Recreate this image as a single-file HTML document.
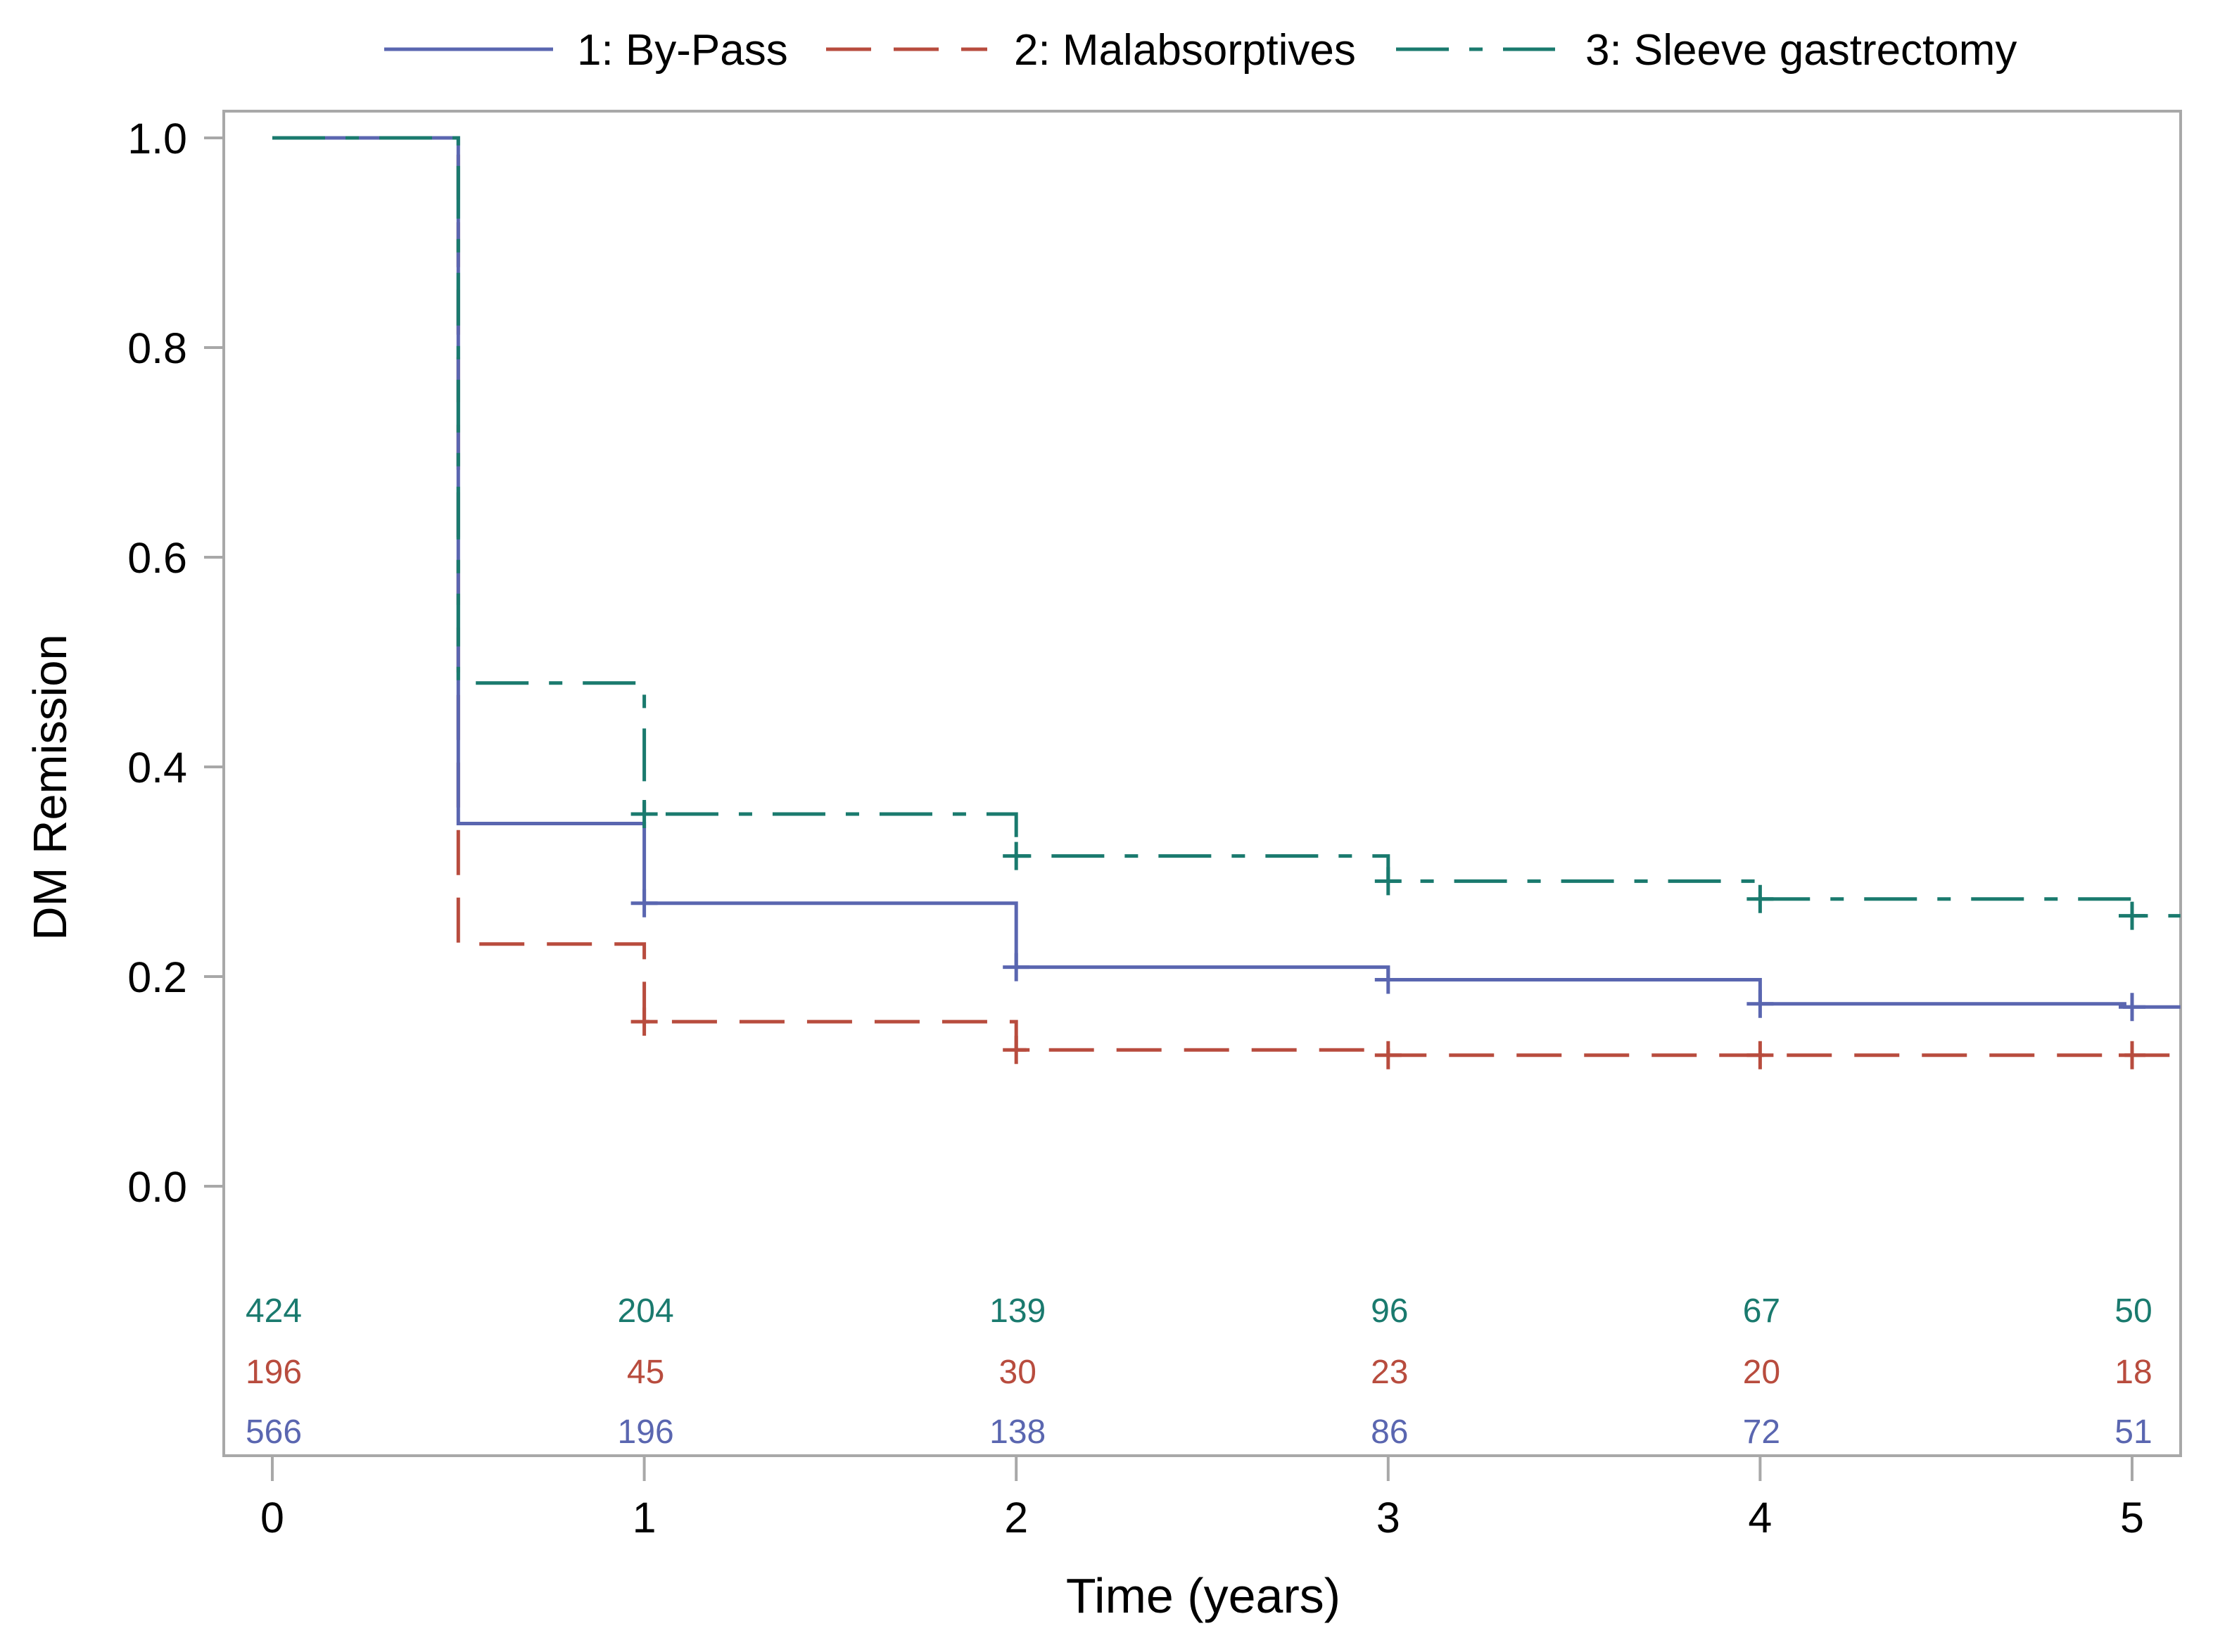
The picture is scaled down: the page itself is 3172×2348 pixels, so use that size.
<!DOCTYPE html>
<html><head><meta charset="utf-8"><style>
html,body{margin:0;padding:0;background:#fff;}
svg{display:block;font-family:"Liberation Sans",Arial,sans-serif;}
</style></head><body>
<svg id="chart" width="3172" height="2348" viewBox="0 0 3172 2348" xmlns="http://www.w3.org/2000/svg">
<rect x="0" y="0" width="3172" height="2348" fill="#fff"/>
<g id="legend">
  <g>
    <line x1="546" y1="70" x2="786" y2="70" stroke="#5a66b0" stroke-width="5"/>
    <text x="820" y="92" font-size="62" fill="#000">1: By-Pass</text>
  </g>
  <g>
    <line x1="1174" y1="70" x2="1403" y2="70" stroke="#b84c3e" stroke-width="5" stroke-dasharray="64 32"/>
    <text x="1441" y="92" font-size="62" fill="#000">2: Malabsorptives</text>
  </g>
  <g>
    <line x1="1984" y1="70" x2="2210" y2="70" stroke="#1a7a6e" stroke-width="5" stroke-dasharray="75 29 19 29"/>
    <text x="2253" y="92" font-size="62" fill="#000">3: Sleeve gastrectomy</text>
  </g>
</g>
<rect x="318" y="158" width="2781" height="1911" fill="none" stroke="#a8a8a8" stroke-width="4"/>
<g id="yaxis"></g>
<g id="xaxis"></g>
<g id="series"></g>
<g id="risk"></g>
<text x="1710" y="2292" font-size="70" text-anchor="middle" fill="#000">Time (years)</text>
<text transform="translate(94,1119) rotate(-90)" font-size="67" text-anchor="middle" fill="#000">DM Remission</text>
</svg>
<script>
const yTicks = [0.0, 0.2, 0.4, 0.6, 0.8, 1.0];
const yTickLabels = ["0.0", "0.2", "0.4", "0.6", "0.8", "1.0"];
const xTicks = [0, 1, 2, 3, 4, 5];
const xTickLabels = ["0", "1", "2", "3", "4", "5"];
const xMax = 5.13;
const bypassTimes = [0, 0.5, 1, 2, 3, 4, 4.98];
const bypassSurv = [1.0, 0.346, 0.270, 0.209, 0.197, 0.174, 0.171];
const bypassCensor = [1, 2, 3, 4, 5];
const malabTimes = [0, 0.5, 1, 2, 3];
const malabSurv = [1.0, 0.231, 0.157, 0.130, 0.125];
const malabCensor = [1, 2, 3, 4, 5];
const sleeveTimes = [0, 0.5, 1, 2, 3, 4, 5];
const sleeveSurv = [1.0, 0.480, 0.355, 0.315, 0.291, 0.274, 0.258];
const sleeveCensor = [1, 2, 3, 4, 5];
const riskTimes = [0, 1, 2, 3, 4, 5];
const riskSleeve = [424, 204, 139, 96, 67, 50];
const riskMalab = [196, 45, 30, 23, 20, 18];
const riskBypass = [566, 196, 138, 86, 72, 51];

const NS = "http://www.w3.org/2000/svg";
const X = t => 387 + t * 528.6;
const Y = v => 1686 - v * 1490;
function mk(tag, attrs, parent) {
  const e = document.createElementNS(NS, tag);
  for (const k in attrs) e.setAttribute(k, attrs[k]);
  parent.appendChild(e);
  return e;
}
const yg = document.getElementById('yaxis');
yTicks.forEach((v, i) => {
  const l = mk('line', {x1: 290, x2: 318, y1: Y(v), y2: Y(v), stroke: '#a8a8a8', 'stroke-width': 4}, yg);
  
  
  const t = mk('text', {x: 266, y: Y(v) + 22, 'font-size': 61, 'text-anchor': 'end', fill: '#000'}, yg);
  t.textContent = yTickLabels[i];
  
  
});
const xg = document.getElementById('xaxis');
xTicks.forEach((v, i) => {
  const l = mk('line', {x1: X(v), x2: X(v), y1: 2069, y2: 2105, stroke: '#a8a8a8', 'stroke-width': 4}, xg);
  
  
  const t = mk('text', {x: X(v), y: 2178, 'font-size': 61, 'text-anchor': 'middle', fill: '#000'}, xg);
  t.textContent = xTickLabels[i];
  
  
});
const sg = document.getElementById('series');
function drawSeries(times, surv, censor, color, dash, name) {
  let d = 'M' + X(times[0]) + ' ' + Y(surv[0]);
  for (let i = 1; i < times.length; i++) {
    d += ' H' + X(times[i]) + ' V' + Y(surv[i]);
  }
  d += ' H' + X(xMax);
  const p = mk('path', {d: d, fill: 'none', stroke: color, 'stroke-width': 5, 'stroke-dasharray': dash}, sg);
  
  
  censor.forEach(c => {
    let v = surv[0];
    for (let i = 0; i < times.length; i++) if (times[i] <= c) v = surv[i];
    const cx = X(c), cy = Y(v);
    const g = mk('path', {d: 'M' + (cx - 19) + ' ' + cy + ' H' + (cx + 19) + ' M' + cx + ' ' + (cy - 20) + ' V' + (cy + 20), stroke: color, 'stroke-width': 5, fill: 'none'}, sg);
    
    
  });
}
drawSeries(malabTimes, malabSurv, malabCensor, '#b84c3e', '64 32', 'malabsorptives');
drawSeries(bypassTimes, bypassSurv, bypassCensor, '#5a66b0', 'none', 'bypass');
drawSeries(sleeveTimes, sleeveSurv, sleeveCensor, '#1a7a6e', '75 29 19 29', 'sleeve');
const rg = document.getElementById('risk');
function riskRow(vals, y, color, name) {
  vals.forEach((v, i) => {
    const t = mk('text', {x: X(riskTimes[i]) + 2, y: y, 'font-size': 48, 'text-anchor': 'middle', fill: color}, rg);
    t.textContent = v;
    
    
  });
}
riskRow(riskSleeve, 1879, '#1a7a6e', 'sleeve');
riskRow(riskMalab, 1966, '#b84c3e', 'malabsorptives');
riskRow(riskBypass, 2051, '#5a66b0', 'bypass');
</script>
</body></html>
